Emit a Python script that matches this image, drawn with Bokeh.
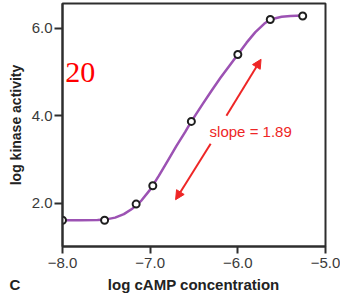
from bokeh.plotting import figure
from bokeh.models import FixedTicker, Label, Arrow, NormalHead, Range1d, Title
from bokeh.embed import file_html
from bokeh.resources import INLINE

# measured data points (log cAMP, log kinase activity)
point_x = [-8.0, -7.52, -7.16, -6.97, -6.53, -6.0, -5.63, -5.26]
point_y = [1.61, 1.61, 1.98, 2.40, 3.87, 5.40, 6.20, 6.28]

# fitted curve
curve_x = [-8.0, -7.8, -7.6, -7.5, -7.4, -7.3, -7.2, -7.1, -7.0, -6.9, -6.8, -6.7,
           -6.6, -6.53, -6.4, -6.3, -6.2, -6.1, -6.0, -5.9, -5.8, -5.7, -5.63,
           -5.5, -5.4, -5.26]
curve_y = [1.61, 1.61, 1.615, 1.63, 1.67, 1.75, 1.88, 2.06, 2.31, 2.63, 2.97, 3.31,
           3.63, 3.87, 4.27, 4.57, 4.86, 5.13, 5.40, 5.67, 5.91, 6.10, 6.20,
           6.26, 6.28, 6.29]

x_ticks = [-8, -7, -6, -5]
x_tick_labels = ["\u22128.0", "\u22127.0", "\u22126.0", "\u22125.0"]
y_ticks = [2, 4, 6]
y_tick_labels = ["2.0", "4.0", "6.0"]

panel_letter = "C"
x_label = "log cAMP concentration"
y_label = "log kinase activity"

RED = "#ee2626"
PURPLE = "#9c52b3"
AX = "#2e2e2e"

p = figure(width=340, height=299, x_range=Range1d(-8, -5), y_range=Range1d(1.01, 6.565),
           output_backend="svg", toolbar_location=None,
           min_border_left=62, min_border_right=15, min_border_top=3, min_border_bottom=53)
p.background_fill_color = "white"
p.border_fill_color = "white"
p.xgrid.visible = False
p.ygrid.visible = False
p.outline_line_color = AX
p.outline_line_width = 2

for ax in (p.xaxis[0], p.yaxis[0]):
    ax.axis_line_color = AX
    ax.axis_line_width = 2
    ax.major_tick_line_color = AX
    ax.major_tick_line_width = 2
    ax.major_tick_in = 0
    ax.minor_tick_line_color = None
    ax.major_label_text_font = "Liberation Sans"
    ax.major_label_text_color = "#3a3a3a"
    ax.major_label_text_font_size = "15px"
    ax.axis_label_text_font = "Liberation Sans"
    ax.axis_label_text_font_style = "bold"
    ax.axis_label_text_color = "#222222"

p.xaxis.ticker = FixedTicker(ticks=x_ticks)
p.xaxis.major_label_overrides = {t: l for t, l in zip(x_ticks, x_tick_labels)}
p.yaxis.ticker = FixedTicker(ticks=y_ticks)
p.yaxis.major_label_overrides = {t: l for t, l in zip(y_ticks, y_tick_labels)}

p.xaxis.major_tick_out = 7
p.yaxis.major_tick_out = 8
p.xaxis.major_label_standoff = 4
p.yaxis.major_label_standoff = 2
p.yaxis.axis_label = y_label
p.yaxis.axis_label_text_font_size = "14px"
p.yaxis.axis_label_standoff = 5

# panel letter and x-axis title share one line below the axis
p.add_layout(Title(text=panel_letter + "\u00a0" * 21 + x_label, align="left",
                   offset=-53, standoff=6, text_font="Liberation Sans",
                   text_font_style="bold", text_font_size="15px",
                   text_color="#222222"), "below")

p.line(curve_x, curve_y, line_color=PURPLE, line_width=2.5)
p.scatter(point_x, point_y, size=7, fill_color="white", line_color="#1e1e1e", line_width=2)

p.add_layout(Arrow(end=NormalHead(size=9, fill_color=RED, line_color=RED),
                   x_start=-6.13, y_start=4.0, x_end=-5.735, y_end=5.29,
                   line_color=RED, line_width=2))
p.add_layout(Arrow(end=NormalHead(size=9, fill_color=RED, line_color=RED),
                   x_start=-6.31, y_start=3.36, x_end=-6.71, y_end=2.08,
                   line_color=RED, line_width=2))

p.add_layout(Label(x=-6.322, y=3.63, text="slope = 1.89", text_color=RED,
                   text_font="Liberation Sans", text_font_size="15px",
                   text_align="left", text_baseline="alphabetic"))
p.add_layout(Label(x=-7.97, y=4.99, text="20", text_color="#ff0000",
                   text_font="Liberation Serif", text_font_size="30px",
                   text_align="left", text_baseline="alphabetic"))

open("out.html", "w").write(file_html(p, INLINE))
